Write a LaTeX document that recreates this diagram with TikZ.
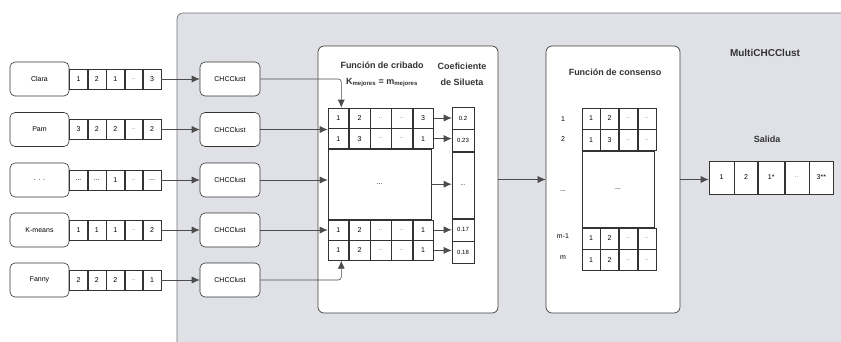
\documentclass[tikz,border=0pt]{standalone}
\usepackage{fontspec}
\setmainfont{Liberation Sans}
\usepackage{tikz}
\usetikzlibrary{positioning,arrows.meta}
\definecolor{panelgray}{HTML}{DFE1E6}

\begin{document}
\begin{tikzpicture}[
        x=1pt, y=-1pt,
        namebox/.style = {rectangle, draw=black!80, line width=0.6pt, fill=white, rounded corners=5pt, minimum width=59pt, minimum height=34pt, font=\scriptsize},
        chcbox/.style = {namebox, minimum width=60pt},
        cell/.style = {rectangle, draw=black!80, line width=0.6pt, fill=white, inner sep=0pt, minimum width=17.8pt, minimum height=20pt, font=\scriptsize},
        mcell/.style = {cell, minimum width=20.6pt},
        scell/.style = {cell, minimum width=22pt, minimum height=22pt, font=\fontsize{6}{7}\selectfont},
        ccell/.style = {cell, minimum width=18pt, minimum height=21pt},
        ocell/.style = {cell, minimum height=33pt},
        faint/.style = {text=black!45},
        panel/.style = {rectangle, draw=black!75, line width=0.7pt, fill=white, rounded corners=6pt},
        title/.style = {align=center, text=black!80, font=\fontsize{9}{11}\selectfont\bfseries},
        line/.style = {draw=black!70, line width=0.6pt, -{Latex[length=8pt,width=7pt]}}
    ]

    \useasboundingbox (0,0) rectangle (841,341);
    \clip (0,0) rectangle (841,341);

    % grey frame of the whole method
    \draw[draw=black!55, line width=0.7pt, fill=panelgray, rounded corners=6pt] (177,13) rectangle (880,380);
    \node[title, font=\fontsize{10}{12}\selectfont\bfseries] (multi) at (765,53) {MultiCHCClust};

    % input partitions
    \node [namebox] (clara) at (39.5,79) {Clara};
    \node [cell, right=0pt of clara] (clara1) {1};
    \node [cell, right=0pt of clara1] (clara2) {2};
    \node [cell, right=0pt of clara2] (clara3) {1};
    \node [cell, faint, right=0pt of clara3] (clara4) {..};
    \node [cell, right=0pt of clara4] (clara5) {3};

    \node [namebox] (pam) at (39.5,129.5) {Pam};
    \node [cell, right=0pt of pam] (pam1) {3};
    \node [cell, right=0pt of pam1] (pam2) {2};
    \node [cell, right=0pt of pam2] (pam3) {2};
    \node [cell, faint, right=0pt of pam3] (pam4) {..};
    \node [cell, right=0pt of pam4] (pam5) {2};

    \node [namebox] (others) at (39.5,180) {. . .};
    \node [cell, right=0pt of others] (others1) {...};
    \node [cell, right=0pt of others1] (others2) {...};
    \node [cell, right=0pt of others2] (others3) {1};
    \node [cell, faint, right=0pt of others3] (others4) {..};
    \node [cell, right=0pt of others4] (others5) {...};

    \node [namebox] (kmeans) at (39.5,230) {K-means};
    \node [cell, right=0pt of kmeans] (kmeans1) {1};
    \node [cell, right=0pt of kmeans1] (kmeans2) {1};
    \node [cell, right=0pt of kmeans2] (kmeans3) {1};
    \node [cell, faint, right=0pt of kmeans3] (kmeans4) {..};
    \node [cell, right=0pt of kmeans4] (kmeans5) {2};

    \node [namebox] (fanny) at (39.5,280) {Fanny};
    \node [cell, right=0pt of fanny] (fanny1) {2};
    \node [cell, right=0pt of fanny1] (fanny2) {2};
    \node [cell, right=0pt of fanny2] (fanny3) {2};
    \node [cell, faint, right=0pt of fanny3] (fanny4) {..};
    \node [cell, right=0pt of fanny4] (fanny5) {1};

    % CHCClust runs
    \node [chcbox] (chc1) at (230,79) {CHCClust};
    \node [chcbox] (chc2) at (230,129.5) {CHCClust};
    \node [chcbox] (chc3) at (230,180) {CHCClust};
    \node [chcbox] (chc4) at (230,230) {CHCClust};
    \node [chcbox] (chc5) at (230,280) {CHCClust};

    \path [line] (clara5) -- (chc1);
    \path [line] (pam5) -- (chc2);
    \path [line] (others5) -- (chc3);
    \path [line] (kmeans5) -- (chc4);
    \path [line] (fanny5) -- (chc5);

    % sieve step
    \node [panel, minimum width=180pt, minimum height=267pt] (cribado) at (408,179.5) {};
    \node [title] (crtitle) at (382,74) {Función de cribado\\[5pt]K\textsubscript{mejores} = m\textsubscript{mejores}};
    \node [title] (siltitle) at (462,74) {Coeficiente\\[5pt]de Silueta};

    \node [mcell] (cr11) at (338.3,118) {1};
    \node [mcell, right=0pt of cr11] (cr12) {2};
    \node [mcell, faint, right=0pt of cr12] (cr13) {..};
    \node [mcell, faint, right=0pt of cr13] (cr14) {..};
    \node [mcell, right=0pt of cr14] (cr15) {3};
    \node [mcell, below=0pt of cr11] (cr21) {1};
    \node [mcell, right=0pt of cr21] (cr22) {3};
    \node [mcell, faint, right=0pt of cr22] (cr23) {..};
    \node [mcell, faint, right=0pt of cr23] (cr24) {..};
    \node [mcell, right=0pt of cr24] (cr25) {1};
    \node [cell, minimum width=103pt, minimum height=70pt, anchor=north west] (crmid) at (cr21.south west) {...};
    \node [mcell, anchor=north west] (cr41) at (crmid.south west) {1};
    \node [mcell, right=0pt of cr41] (cr42) {2};
    \node [mcell, faint, right=0pt of cr42] (cr43) {..};
    \node [mcell, faint, right=0pt of cr43] (cr44) {..};
    \node [mcell, right=0pt of cr44] (cr45) {1};
    \node [mcell, below=0pt of cr41] (cr51) {1};
    \node [mcell, right=0pt of cr51] (cr52) {2};
    \node [mcell, faint, right=0pt of cr52] (cr53) {..};
    \node [mcell, faint, right=0pt of cr53] (cr54) {..};
    \node [mcell, right=0pt of cr54] (cr55) {1};

    \node [scell] (sil1) at (463,118) {0.2};
    \node [scell, below=0pt of sil1] (sil2) {0.23};
    \node [scell, minimum height=66pt, below=0pt of sil2] (silmid) {...};
    \node [scell, below=0pt of silmid] (sil4) {0.17};
    \node [scell, below=0pt of sil4] (sil5) {0.18};

    \path [line, rounded corners=3pt] (chc1.east) -| ([xshift=3pt]cr11.north);
    \path [line] (chc2.east) -- (chc2.east -| cr21.west);
    \path [line] (chc3.east) -- (chc3.east -| crmid.west);
    \path [line] (chc4.east) -- (chc4.east -| cr41.west);
    \path [line, rounded corners=3pt] (chc5.east) -| ([xshift=3pt]cr51.south);

    \path [line] (cr15.east) -- (cr15.east -| sil1.west);
    \path [line] (cr25.east) -- (cr25.east -| sil2.west);
    \path [line] (crmid.east) -- (crmid.east -| silmid.west);
    \path [line] (cr45.east) -- (cr45.east -| sil4.west);
    \path [line] (cr55.east) -- (cr55.east -| sil5.west);

    % consensus step
    \node [panel, minimum width=134pt, minimum height=267pt] (consenso) at (613,179.5) {};
    \node [title] (cotitle) at (615,72) {Función de consenso};

    \node [ccell] (co11) at (591,118.5) {1};
    \node [ccell, right=0pt of co11] (co12) {2};
    \node [ccell, faint, right=0pt of co12] (co13) {..};
    \node [ccell, faint, right=0pt of co13] (co14) {..};
    \node [ccell, below=0pt of co11] (co21) {1};
    \node [ccell, right=0pt of co21] (co22) {3};
    \node [ccell, faint, right=0pt of co22] (co23) {..};
    \node [ccell, faint, right=0pt of co23] (co24) {..};
    \node [cell, minimum width=72pt, minimum height=76pt, anchor=north west] (comid) at (co21.south west) {...};
    \node [ccell, anchor=north west] (co41) at (comid.south west) {1};
    \node [ccell, right=0pt of co41] (co42) {2};
    \node [ccell, faint, right=0pt of co42] (co43) {..};
    \node [ccell, faint, right=0pt of co43] (co44) {..};
    \node [ccell, below=0pt of co41] (co51) {1};
    \node [ccell, right=0pt of co51] (co52) {2};
    \node [ccell, faint, right=0pt of co52] (co53) {..};
    \node [ccell, faint, right=0pt of co53] (co54) {..};

    \node [font=\scriptsize] (lab1) at (563,119) {1};
    \node [font=\scriptsize] (lab2) at (563,139.5) {2};
    \node [font=\scriptsize] (labmid) at (563,191) {...};
    \node [font=\scriptsize] (labm1) at (563,236.5) {m-1};
    \node [font=\scriptsize] (labm) at (563,257.5) {m};

    \path [line] (cribado.east) -- (cribado.east -| consenso.west);

    % final partition
    \node [title] (saltitle) at (767,139) {Salida};
    \node [ocell, minimum width=25pt] (out1) at (721.5,177.5) {1};
    \node [ocell, minimum width=23pt, right=0pt of out1] (out2) {2};
    \node [ocell, minimum width=26pt, right=0pt of out2] (out3) {1*};
    \node [ocell, minimum width=24pt, faint, right=0pt of out3] (out4) {..};
    \node [ocell, minimum width=24pt, right=0pt of out4] (out5) {3**};

    \path [line] (consenso.east) -- (consenso.east -| out1.west);

\end{tikzpicture}
\end{document}
